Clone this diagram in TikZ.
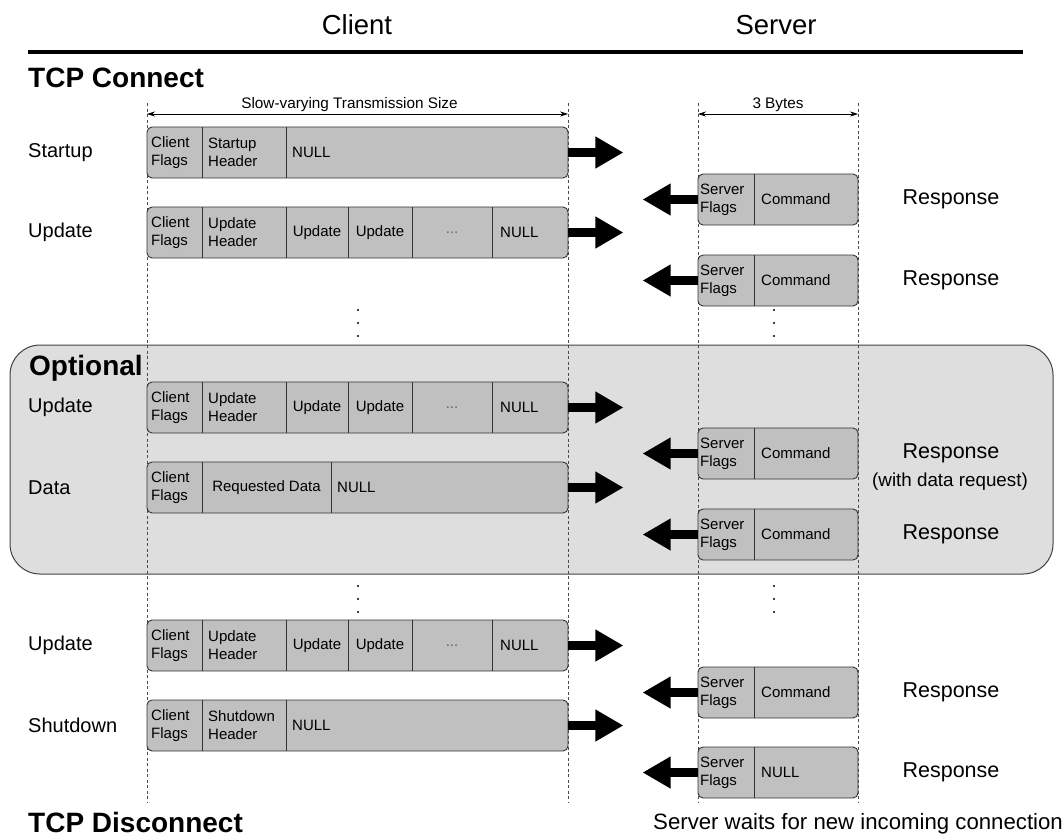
\documentclass[tikz,border=0pt]{standalone}
\usepackage{fontspec}
\setmainfont{Liberation Sans}
\usetikzlibrary{arrows.meta}

\definecolor{pktgray}{HTML}{C0C0C0}
\definecolor{optgray}{HTML}{DEDEDE}
\definecolor{edgegray}{HTML}{333333}

\tikzset{
  pkt/.style={draw=edgegray, fill=pktgray, line width=0.9pt, rounded corners=5pt, inner sep=0pt},
  cpkt/.style={pkt, minimum width=421pt, minimum height=51pt},
  spkt/.style={pkt, minimum width=160pt, minimum height=51pt},
  divider/.style={draw=edgegray, line width=0.9pt},
  cell/.style={font=\fontsize{15}{18}\selectfont, inner sep=0pt, align=left, anchor=west},
  ccell/.style={font=\fontsize{15}{18}\selectfont, inner sep=0pt},
  msg/.style={font=\fontsize{20}{24}\selectfont, anchor=west, inner sep=0pt},
  reply/.style={font=\fontsize{21.5}{24}\selectfont, inner sep=0pt},
  phase/.style={font=\fontsize{28}{30}\selectfont\bfseries, anchor=base west, inner sep=0pt},
  title/.style={font=\fontsize{27.5}{30}\selectfont, inner sep=0pt},
  lane/.style={draw=black!70, line width=0.8pt, dash pattern=on 3pt off 2.5pt},
  fat/.style={line width=9pt, -{Triangle[length=28pt,width=30pt]}},
  dimline/.style={line width=0.6pt, {Stealth[length=8pt,width=5pt]}-{Stealth[length=8pt,width=5pt]}},
  dimtext/.style={font=\fontsize{15.3}{16}\selectfont, inner sep=0pt, anchor=south, yshift=2pt},
}

\begin{document}
\begin{tikzpicture}[x=1pt,y=-1pt]
\useasboundingbox (0,0) rectangle (1064,839);

% headings
\node[title] (client) at (357,25) {Client};
\node[title] (server) at (776,25) {Server};
\coordinate (rule l) at (28,52);
\coordinate (rule r) at (1023,52);
\draw[line width=4pt] (rule l) -- (rule r);
\node[phase] (connect) at (28,87) {TCP Connect};

% optional block
\node[draw=black!75, fill=optgray, line width=1pt, rounded corners=30pt, minimum width=1043pt, minimum height=229pt] (optional) at (531.5,459.5) {};
\node[phase] (optlabel) at (29,375) {Optional};

% lanes
\foreach \x in {147,568,698,858} \draw[lane] (\x,103) -- (\x,802);
\coordinate (cl dim) at (147,114);
\coordinate (cr dim) at (568,114);
\coordinate (sl dim) at (698,114);
\coordinate (sr dim) at (858,114);
\draw[dimline] (cl dim) -- node[dimtext, xshift=-8pt] (slowsize) {Slow-varying Transmission Size} (cr dim);
\draw[dimline] (sl dim) -- node[dimtext] (bytes) {3 Bytes} (sr dim);

% startup
\node[msg] (l startup) at (28,152.5) {Startup};
\node[cpkt] (startup) at (357.5,152.5) {};
\draw[divider] (202,127) -- (202,178);
\draw[divider] (286,127) -- (286,178);
\node[cell] (startup flags) at (151,152.5) {Client\\Flags};
\node[cell] (startup head) at (208,152.5) {Startup\\Header};
\node[cell] (startup null) at (292,152.5) {NULL};
\coordinate (startup out) at ([xshift=55pt]startup.east);
\draw[fat] (startup.east) -- (startup out);

% response 1
\node[spkt] (resp1) at (778,199.5) {};
\draw[divider] (754,174) -- (754,225);
\node[cell] (resp1 flags) at (700,199.5) {Server\\Flags};
\node[cell] (resp1 cmd) at (761,199.5) {Command};
\node[reply] (l resp1) at (951,199.5) {Response};
\coordinate (resp1 out) at ([xshift=-55pt]resp1.west);
\draw[fat] (resp1.west) -- (resp1 out);

% update 1
\node[msg] (l upd1) at (28,232.5) {Update};
\node[cpkt] (upd1) at (357.5,232.5) {};
\foreach \x in {202,286,348,412,492} \draw[divider] (\x,207) -- (\x,258);
\node[cell] (upd1 flags) at (151,232.5) {Client\\Flags};
\node[cell] (upd1 head) at (208,232.5) {Update\\Header};
\node[ccell] (upd1 a) at (317,232.5) {Update};
\node[ccell] (upd1 b) at (380,232.5) {Update};
\node[ccell, text=black!60] (upd1 c) at (452,232.5) {...};
\node[cell] (upd1 null) at (500,232.5) {NULL};
\coordinate (upd1 out) at ([xshift=55pt]upd1.east);
\draw[fat] (upd1.east) -- (upd1 out);

% response 2
\node[spkt] (resp2) at (778,280.5) {};
\draw[divider] (754,255) -- (754,306);
\node[cell] (resp2 flags) at (700,280.5) {Server\\Flags};
\node[cell] (resp2 cmd) at (761,280.5) {Command};
\node[reply] (l resp2) at (951,280.5) {Response};
\coordinate (resp2 out) at ([xshift=-55pt]resp2.west);
\draw[fat] (resp2.west) -- (resp2 out);

% dots
\foreach \y in {310,323,336,586,599,612} {
  \fill (358,\y) circle (1.2pt);
  \fill (774,\y) circle (1.2pt);
}

% update 2
\node[msg] (l upd2) at (28,407.5) {Update};
\node[cpkt] (upd2) at (357.5,407.5) {};
\foreach \x in {202,286,348,412,492} \draw[divider] (\x,382) -- (\x,433);
\node[cell] (upd2 flags) at (151,407.5) {Client\\Flags};
\node[cell] (upd2 head) at (208,407.5) {Update\\Header};
\node[ccell] (upd2 a) at (317,407.5) {Update};
\node[ccell] (upd2 b) at (380,407.5) {Update};
\node[ccell, text=black!60] (upd2 c) at (452,407.5) {...};
\node[cell] (upd2 null) at (500,407.5) {NULL};
\coordinate (upd2 out) at ([xshift=55pt]upd2.east);
\draw[fat] (upd2.east) -- (upd2 out);

% response 3
\node[spkt] (resp3) at (778,453.5) {};
\draw[divider] (754,428) -- (754,479);
\node[cell] (resp3 flags) at (700,453.5) {Server\\Flags};
\node[cell] (resp3 cmd) at (761,453.5) {Command};
\node[reply] (l resp3) at (951,453.5) {Response};
\node[font=\fontsize{18.8}{20}\selectfont, inner sep=0pt] (l resp3 note) at (950,482) {(with data request)};
\coordinate (resp3 out) at ([xshift=-55pt]resp3.west);
\draw[fat] (resp3.west) -- (resp3 out);

% data
\node[msg] (l data) at (28,487.5) {Data};
\node[cpkt] (data) at (357.5,487.5) {};
\draw[divider] (202,462) -- (202,513);
\draw[divider] (331,462) -- (331,513);
\node[cell] (data flags) at (151,487.5) {Client\\Flags};
\node[ccell] (data req) at (266.5,487.5) {Requested Data};
\node[cell] (data null) at (337,487.5) {NULL};
\coordinate (data out) at ([xshift=55pt]data.east);
\draw[fat] (data.east) -- (data out);

% response 4
\node[spkt] (resp4) at (778,534.5) {};
\draw[divider] (754,509) -- (754,560);
\node[cell] (resp4 flags) at (700,534.5) {Server\\Flags};
\node[cell] (resp4 cmd) at (761,534.5) {Command};
\node[reply] (l resp4) at (951,534.5) {Response};
\coordinate (resp4 out) at ([xshift=-55pt]resp4.west);
\draw[fat] (resp4.west) -- (resp4 out);

% update 3
\node[msg] (l upd3) at (28,645.5) {Update};
\node[cpkt] (upd3) at (357.5,645.5) {};
\foreach \x in {202,286,348,412,492} \draw[divider] (\x,620) -- (\x,671);
\node[cell] (upd3 flags) at (151,645.5) {Client\\Flags};
\node[cell] (upd3 head) at (208,645.5) {Update\\Header};
\node[ccell] (upd3 a) at (317,645.5) {Update};
\node[ccell] (upd3 b) at (380,645.5) {Update};
\node[ccell, text=black!60] (upd3 c) at (452,645.5) {...};
\node[cell] (upd3 null) at (500,645.5) {NULL};
\coordinate (upd3 out) at ([xshift=55pt]upd3.east);
\draw[fat] (upd3.east) -- (upd3 out);

% response 5
\node[spkt] (resp5) at (778,692.5) {};
\draw[divider] (754,667) -- (754,718);
\node[cell] (resp5 flags) at (700,692.5) {Server\\Flags};
\node[cell] (resp5 cmd) at (761,692.5) {Command};
\node[reply] (l resp5) at (951,692.5) {Response};
\coordinate (resp5 out) at ([xshift=-55pt]resp5.west);
\draw[fat] (resp5.west) -- (resp5 out);

% shutdown
\node[msg] (l shut) at (28,725.5) {Shutdown};
\node[cpkt] (shut) at (357.5,725.5) {};
\draw[divider] (202,700) -- (202,751);
\draw[divider] (286,700) -- (286,751);
\node[cell] (shut flags) at (151,725.5) {Client\\Flags};
\node[cell] (shut head) at (208,725.5) {Shutdown\\Header};
\node[cell] (shut null) at (292,725.5) {NULL};
\coordinate (shut out) at ([xshift=55pt]shut.east);
\draw[fat] (shut.east) -- (shut out);

% response 6
\node[spkt] (resp6) at (778,772.5) {};
\draw[divider] (754,747) -- (754,798);
\node[cell] (resp6 flags) at (700,772.5) {Server\\Flags};
\node[cell] (resp6 null) at (761,772.5) {NULL};
\node[reply] (l resp6) at (951,772.5) {Response};
\coordinate (resp6 out) at ([xshift=-55pt]resp6.west);
\draw[fat] (resp6.west) -- (resp6 out);

% closing
\node[phase] (disconnect) at (28,832) {TCP Disconnect};
\node[font=\fontsize{22.2}{24}\selectfont, anchor=base west, inner sep=0pt] (wait) at (653,829) {Server waits for new incoming connection};
\end{tikzpicture}
\end{document}
